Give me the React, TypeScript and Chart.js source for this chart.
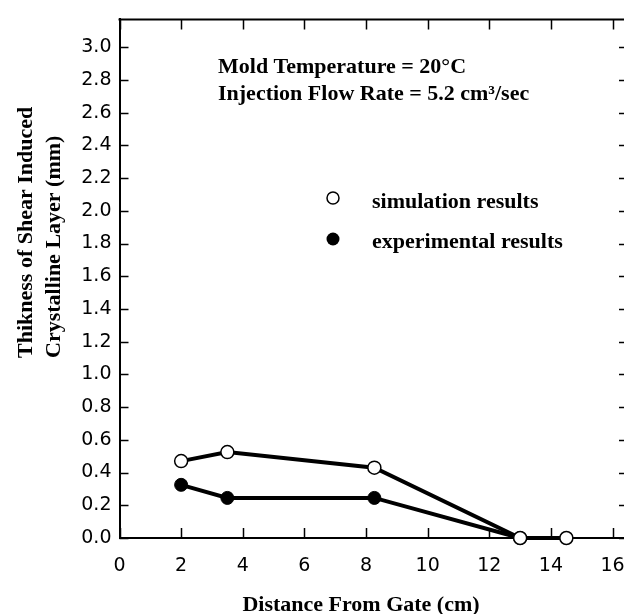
import React, { useEffect, useRef } from "react";
import { Chart, registerables } from "chart.js";

Chart.register(...registerables);

// ---- data ----
const simDistances = [2, 3.5, 8.27, 13, 14.5];
const simThickness = [0.47, 0.525, 0.43, 0, 0];
const expDistances = [2, 3.5, 8.27, 13];
const expThickness = [0.325, 0.245, 0.245, 0];
const xTicks = [0, 2, 4, 6, 8, 10, 12, 14, 16];
const yTicks = [0, 0.2, 0.4, 0.6, 0.8, 1.0, 1.2, 1.4, 1.6, 1.8, 2.0, 2.2, 2.4, 2.6, 2.8, 3.0];
const legendLabels = ["simulation results", "experimental results"];
const annotationLines = ["Mold Temperature = 20°C", "Injection Flow Rate = 5.2 cm³/sec"];
const yTitleLines = ["Thikness of Shear Induced", "Crystalline Layer (mm)"];
const xTitle = "Distance From Gate (cm)";

const SERIF = "bold 22px 'Liberation Serif', 'Times New Roman', serif";

const framePlugin = {
  id: "frame",
  beforeDatasetsDraw(chart: any) {
    const { ctx, chartArea } = chart;
    const { left, right, top, bottom } = chartArea;
    const xs = chart.scales.x;
    const ys = chart.scales.y;
    ctx.save();
    ctx.strokeStyle = "#000";
    ctx.lineWidth = 2;
    ctx.beginPath();
    ctx.moveTo(left - 1, top);
    ctx.lineTo(right, top);
    ctx.moveTo(right, top);
    ctx.lineTo(right, bottom);
    ctx.stroke();
    ctx.lineWidth = 1.5;
    ctx.beginPath();
    for (const v of xTicks) {
      const px = Math.round(xs.getPixelForValue(v)) + 0.5;
      ctx.moveTo(px, bottom);
      ctx.lineTo(px, bottom - 10);
      ctx.moveTo(px, top);
      ctx.lineTo(px, top + 10);
    }
    for (const v of yTicks) {
      const py = Math.round(ys.getPixelForValue(v)) + 0.5;
      ctx.moveTo(left, py);
      ctx.lineTo(left + 9, py);
      ctx.moveTo(right, py);
      ctx.lineTo(right - 9, py);
    }
    ctx.stroke();
    ctx.restore();
  },
  afterDraw(chart: any) {
    const { ctx } = chart;
    ctx.save();
    ctx.fillStyle = "#000";
    ctx.font = SERIF;
    ctx.textAlign = "left";
    ctx.textBaseline = "alphabetic";
    // annotation
    ctx.fillText(annotationLines[0], 218, 73);
    ctx.fillText(annotationLines[1], 218, 100);
    // legend
    ctx.lineWidth = 1.5;
    ctx.strokeStyle = "#000";
    ctx.beginPath();
    ctx.arc(333, 198, 6, 0, Math.PI * 2);
    ctx.fillStyle = "#fff";
    ctx.fill();
    ctx.stroke();
    ctx.beginPath();
    ctx.arc(333, 239, 6.5, 0, Math.PI * 2);
    ctx.fillStyle = "#000";
    ctx.fill();
    ctx.fillText(legendLabels[0], 372, 208);
    ctx.fillText(legendLabels[1], 372, 248);
    // x title
    ctx.textAlign = "center";
    ctx.fillText(xTitle, 361, 611);
    // y title
    ctx.textAlign = "left";
    ctx.save();
    ctx.translate(32, 358);
    ctx.rotate(-Math.PI / 2);
    ctx.fillText(yTitleLines[0], 0, 0);
    ctx.restore();
    ctx.save();
    ctx.translate(60, 358);
    ctx.rotate(-Math.PI / 2);
    ctx.fillText(yTitleLines[1], 0, 0);
    ctx.restore();
    ctx.restore();
  },
};

export default function App() {
  const ref = useRef<HTMLCanvasElement | null>(null);
  useEffect(() => {
    if (!ref.current) return;
    const chart = new Chart(ref.current, {
      type: "line",
      data: {
        datasets: [
          {
            label: legendLabels[0],
            data: simDistances.map((x, i) => ({ x, y: simThickness[i] })),
            borderColor: "#000",
            borderWidth: 4,
            pointRadius: 6.5,
            pointBackgroundColor: "#fff",
            pointBorderColor: "#000",
            pointBorderWidth: 1.5,
            tension: 0,
            clip: false,
            order: 0,
          },
          {
            label: legendLabels[1],
            data: expDistances.map((x, i) => ({ x, y: expThickness[i] })),
            borderColor: "#000",
            borderWidth: 4,
            pointRadius: 6.5,
            pointBackgroundColor: "#000",
            pointBorderColor: "#000",
            pointBorderWidth: 1,
            tension: 0,
            clip: false,
            order: 1,
          },
        ],
      },
      options: {
        responsive: false,
        animation: false,
        devicePixelRatio: 1,
        layout: { padding: { top: 14, right: 32, left: 0, bottom: 0 } },
        plugins: { legend: { display: false }, tooltip: { enabled: false } },
        scales: {
          x: {
            type: "linear",
            min: 0,
            max: 16.5,
            afterBuildTicks: (s: any) => {
              s.ticks = xTicks.map((v) => ({ value: v }));
            },
            afterFit: (s: any) => {
              s.height = 76;
            },
            grid: { drawOnChartArea: false, drawTicks: false },
            border: { color: "#000", width: 2 },
            ticks: {
              padding: 17,
              color: "#000",
              autoSkip: false,
              maxRotation: 0,
              font: { family: "'DejaVu Sans'", size: 19 },
              callback: (v: any) => String(v),
            },
          },
          y: {
            type: "linear",
            min: 0,
            max: 3.17,
            afterBuildTicks: (s: any) => {
              s.ticks = yTicks.map((v) => ({ value: v }));
            },
            afterFit: (s: any) => {
              s.width = 119.5;
            },
            grid: { drawOnChartArea: false, drawTicks: false },
            border: { color: "#000", width: 2 },
            ticks: {
              padding: 8,
              color: "#000",
              autoSkip: false,
              font: { family: "'DejaVu Sans'", size: 19 },
              callback: (v: any) => Number(v).toFixed(1),
            },
          },
        },
      },
      plugins: [framePlugin],
    });
    return () => chart.destroy();
  }, []);
  return (
    <div
      style={{
        position: "absolute",
        left: 0,
        top: 0,
        width: 624,
        height: 614,
        overflow: "hidden",
        background: "#fff",
      }}
    >
      <canvas ref={ref} width={660} height={614} style={{ display: "block", width: 660, height: 614 }} />
    </div>
  );
}
